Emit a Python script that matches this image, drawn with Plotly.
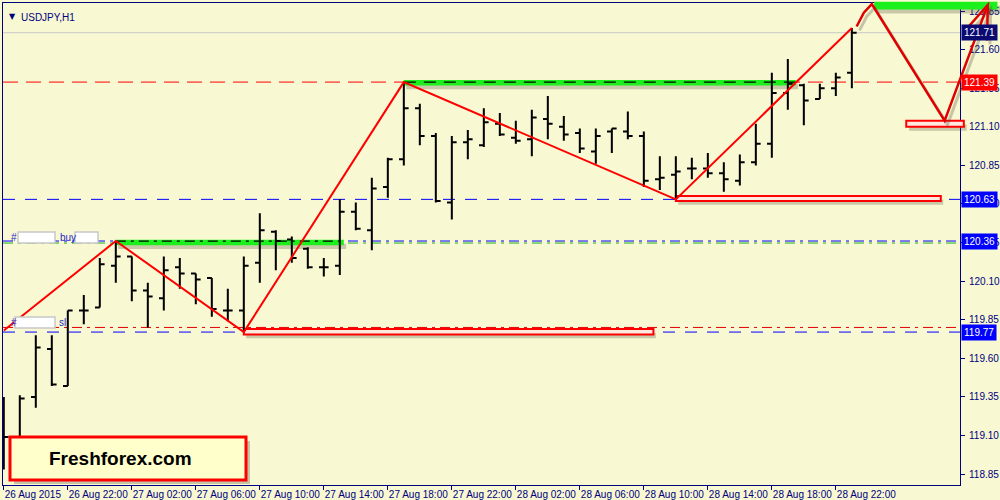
import plotly.graph_objects as go

# ---------------- data ----------------
BARS = list(range(54))  # hourly bars starting 26 Aug 2015 18:00
OPEN = [119.20,119.06,119.35,119.66,119.42,119.91,119.93,120.20,120.26,120.04,
        119.99,120.19,120.15,120.12,119.91,119.91,120.22,120.42,120.37,120.31,
        120.19,120.20,120.55,120.43,120.71,120.89,121.22,121.04,120.61,121.00,
        120.98,121.12,121.03,121.02,121.15,121.10,121.06,120.94,121.07,121.07,
        121.04,120.76,120.79,120.83,120.83,120.80,120.75,120.87,120.99,121.32,
        121.37,121.28,121.35,121.45]
HIGH = [119.35,119.36,119.75,119.75,119.91,120.01,120.25,120.36,120.26,120.09,
        120.26,120.25,120.15,120.12,120.05,120.26,120.54,120.43,120.39,120.32,
        120.25,120.63,120.61,120.77,120.90,121.39,121.25,121.06,121.04,121.08,
        121.22,121.19,121.14,121.21,121.30,121.17,121.09,121.09,121.09,121.20,
        121.07,120.91,120.91,120.90,120.93,120.87,120.92,121.12,121.45,121.54,
        121.38,121.38,121.45,121.74]
LOW = [118.88,118.98,119.28,119.42,119.42,119.82,119.93,120.09,119.97,119.80,
       119.91,120.05,119.95,119.87,119.84,119.77,120.09,120.17,120.22,120.18,
       120.13,120.14,120.43,120.30,120.64,120.85,120.98,120.61,120.50,120.89,
       120.97,121.04,120.99,120.91,121.02,121.01,120.93,120.86,120.93,121.02,
       120.71,120.69,120.63,120.76,120.77,120.68,120.72,120.85,120.90,121.21,
       121.11,121.28,121.30,121.35]
CLOSE = [119.09,119.34,119.67,119.43,119.91,119.91,120.21,120.26,120.04,120.00,
         120.17,120.15,120.11,119.92,119.91,120.20,120.43,120.36,120.25,120.19,
         120.19,120.55,120.44,120.70,120.89,121.22,121.04,120.62,121.00,121.02,
         121.13,121.05,121.01,121.16,121.12,121.05,120.96,121.04,121.09,121.04,
         120.75,120.77,120.81,120.83,120.80,120.76,120.87,120.99,121.32,121.38,
         121.27,121.35,121.42,121.71]

TICK_BARS = [0, 4, 8, 12, 16, 20, 24, 28, 32, 36, 40, 44, 48, 52]
TICK_LABELS = ["26 Aug 2015", "26 Aug 22:00", "27 Aug 02:00", "27 Aug 06:00",
               "27 Aug 10:00", "27 Aug 14:00", "27 Aug 18:00", "27 Aug 22:00",
               "28 Aug 02:00", "28 Aug 06:00", "28 Aug 10:00", "28 Aug 14:00",
               "28 Aug 18:00", "28 Aug 22:00"]
PRICE_TICKS = [118.85, 119.10, 119.35, 119.60, 119.85, 120.10, 120.35, 120.60,
               120.85, 121.10, 121.35, 121.60, 121.85]

ZIGZAG_BARS = [0, 7, 15, 25, 42, 53]
ZIGZAG_PRICES = [119.78, 120.36, 119.77, 121.39, 120.63, 121.74]

# price levels
BID = 121.71
RESIST = 121.39
SUPPORT = 120.63
BUY_LEVEL = 120.36
SL_LEVEL = 119.77

# hand drawn projection (bar, price)
PROJ_BARS = [53.3, 53.75, 54.25, 58.8, 61.5]
PROJ_PRICES = [121.75, 121.84, 121.895, 121.14, 121.89]
ARROW_BARS = [60.3, 61.5, 61.45]
ARROW_PRICES = [121.75, 121.89, 121.66]

BG = "#F8F8D3"
NAVY = "#000080"
XR = [-0.05, 59.76]
YR = [118.779, 121.9025]
W, H = 1000, 500
ML, MR, MT, MB = 3, 40, 3, 15


def px_x(px):
    return (px - ML) / (W - ML - MR)


def px_y(py):
    return (H - MB - py) / (H - MT - MB)


def dx(b):
    return (b - XR[0]) / (XR[1] - XR[0])


def dy(p):
    return (p - YR[0]) / (YR[1] - YR[0])


fig = go.Figure()

fig.add_trace(go.Ohlc(
    x=BARS, open=OPEN, high=HIGH, low=LOW, close=CLOSE,
    increasing=dict(line=dict(color="black", width=2)),
    decreasing=dict(line=dict(color="black", width=2)),
    tickwidth=0.3, hoverinfo="skip", showlegend=False))

fig.add_trace(go.Scatter(
    x=ZIGZAG_BARS, y=ZIGZAG_PRICES, mode="lines",
    line=dict(color="#ff0000", width=2), hoverinfo="skip", showlegend=False))

shapes = []


def hline(y, color, dash, width=1, x0=0, x1=1, xref="paper", layer="below"):
    shapes.append(dict(type="line", xref=xref, yref="y", x0=x0, x1=x1, y0=y, y1=y,
                       line=dict(color=color, width=width, dash=dash), layer=layer))


# horizontal levels
hline(BID, "#c8c8c8", "solid")
hline(RESIST, "#ff0000", "15px,8px")
hline(SUPPORT, "#0000ff", "12px,10px")
hline(BUY_LEVEL - 0.013, "#20b020", "10px,5px,3px,5px")
hline(BUY_LEVEL, "#0000ff", "10px,5px,3px,5px")
hline(SL_LEVEL + 0.03, "#e00000", "10px,5px,3px,5px")
hline(SL_LEVEL, "#0000ff", "12px,10px")


def band(x0, x1, y0, y1, fill, line=None, xref="x", yref="y", layer="below"):
    # shadow
    shapes.append(dict(type="rect", xref=xref, yref=yref, x0=x0 + (0.15 if xref == "x" else 0.003),
                       x1=x1 + (0.15 if xref == "x" else 0.003),
                       y0=y0 - (0.025 if yref == "y" else 0.008), y1=y1 - (0.025 if yref == "y" else 0.008),
                       fillcolor="rgba(80,80,60,0.28)", line=dict(width=0), layer=layer))
    shapes.append(dict(type="rect", xref=xref, yref=yref, x0=x0, x1=x1, y0=y0, y1=y1,
                       fillcolor=fill, line=line or dict(width=0), layer=layer))


# green bands
band(7, 21.25, 120.333, 120.368, "#1cf01c")
band(25, 49.5, 121.368, 121.403, "#1cf01c")
hline(BUY_LEVEL, "black", "10px,5px,3px,5px", 1.3, 7, 21.25, "x")
hline(RESIST, "black", "12px,8px", 1.3, 25, 49.5, "x")

# red boxes
band(15, 40.6, 119.755, 119.79, "#ffe8e0", dict(color="#ff0000", width=2))
band(42, 58.56, 120.62, 120.652, "#ffe8e0", dict(color="#ff0000", width=2))

# top-right green band & small red box (extend outside plot)
band(dx(54.4), dx(62.1), dy(121.86), dy(121.91), "#1cf01c", xref="paper", yref="paper", layer="above")
band(dx(56.4), dx(60.0), dy(121.10), dy(121.14), "#ffe8e0", dict(color="#ff0000", width=2),
     xref="paper", yref="paper", layer="above")


def path_from(bs, ps, ox=0.0, oy=0.0):
    pts = [(dx(b) + ox, dy(p) + oy) for b, p in zip(bs, ps)]
    return "M" + " L".join(f"{x:.5f},{y:.5f}" for x, y in pts)


for ox, oy, col, wd in [(0.003, -0.008, "rgba(80,80,60,0.3)", 3), (0, 0, "#e00000", 2.5)]:
    shapes.append(dict(type="path", xref="paper", yref="paper",
                       path=path_from(PROJ_BARS, PROJ_PRICES, ox, oy),
                       line=dict(color=col, width=wd), layer="above"))
    shapes.append(dict(type="path", xref="paper", yref="paper",
                       path=path_from(ARROW_BARS, ARROW_PRICES, ox, oy),
                       line=dict(color=col, width=wd), layer="above"))

# logo box
shapes.append(dict(type="rect", xref="paper", yref="paper", x0=px_x(14), x1=px_x(250),
                   y0=px_y(484), y1=px_y(441), fillcolor="rgba(80,80,60,0.3)",
                   line=dict(width=0), layer="above"))
shapes.append(dict(type="rect", xref="paper", yref="paper", x0=px_x(10), x1=px_x(246),
                   y0=px_y(480), y1=px_y(437), fillcolor="#FFFFCC",
                   line=dict(color="#ff0000", width=3), layer="above"))

# redacted label boxes
for a, b, c, d in [(18, 232, 55, 243), (75, 232, 98, 243), (15, 317, 55, 328)]:
    shapes.append(dict(type="rect", xref="paper", yref="paper", x0=px_x(a), x1=px_x(c),
                       y0=px_y(d), y1=px_y(b), fillcolor="white",
                       line=dict(color="#c8c8c8", width=1.5), layer="above"))

annotations = []
annotations.append(dict(xref="paper", yref="paper", x=px_x(120), y=px_y(458),
                        xanchor="center", yanchor="middle",
                        text="<b>Freshforex.com</b>", showarrow=False,
                        font=dict(family="Liberation Sans", size=19, color="black")))
annotations.append(dict(xref="paper", yref="paper", x=px_x(7), y=px_y(10), xanchor="left",
                        text="▼", showarrow=False,
                        font=dict(family="DejaVu Sans", size=8, color=NAVY)))
annotations.append(dict(xref="paper", yref="paper", x=px_x(19), y=px_y(10), xanchor="left",
                        text="USDJPY,H1", showarrow=False,
                        font=dict(family="Liberation Sans", size=10, color=NAVY)))
for txt, xx, yy in [("#", 9, 237), ("buy", 58, 237), ("#", 9, 322), ("sl", 57, 322)]:
    annotations.append(dict(xref="paper", yref="paper", x=px_x(xx), y=px_y(yy), xanchor="left",
                            text=txt, showarrow=False,
                            font=dict(family="Liberation Sans", size=10, color="#2828c8")))

for val, bg in [(BID, "#0a0a70"), (RESIST, "#ff0000"), (SUPPORT, "#0000ff"),
                (BUY_LEVEL, "#0000ff"), (SL_LEVEL, "#0000ff")]:
    annotations.append(dict(xref="paper", yref="y", x=1, y=val, xanchor="left", xshift=1,
                            text=f"{val:.2f}", showarrow=False, bgcolor=bg, borderpad=2,
                            font=dict(family="Liberation Sans", size=10, color="white")))

fig.update_layout(
    width=W, height=H,
    margin=dict(l=ML, r=MR, t=MT, b=MB, pad=0, autoexpand=False),
    paper_bgcolor=BG, plot_bgcolor=BG,
    showlegend=False,
    shapes=shapes, annotations=annotations,
    xaxis=dict(range=XR, tickvals=TICK_BARS, ticktext=TICK_LABELS, tickangle=0,
               automargin=False,
               showgrid=False, zeroline=False, showline=True, linecolor=NAVY, linewidth=1,
               mirror=True, ticks="outside", ticklen=4, tickcolor=NAVY,
               ticklabelposition="outside right", ticklabelstandoff=0,
               tickfont=dict(family="Liberation Sans", size=10, color=NAVY),
               rangeslider=dict(visible=False), fixedrange=True),
    yaxis=dict(range=YR, side="right", tickvals=PRICE_TICKS, tickformat=".2f",
               automargin=False, ticklabelstandoff=2,
               showgrid=False, zeroline=False, showline=True, linecolor=NAVY, linewidth=1,
               mirror=True, ticks="outside", ticklen=4, tickcolor=NAVY,
               tickfont=dict(family="Liberation Sans", size=10, color=NAVY), fixedrange=True),
)

fig.write_html("out.html", config={"displayModeBar": False},
               post_script="document.body.style.margin='0px';document.body.style.background='" + BG + "';")
